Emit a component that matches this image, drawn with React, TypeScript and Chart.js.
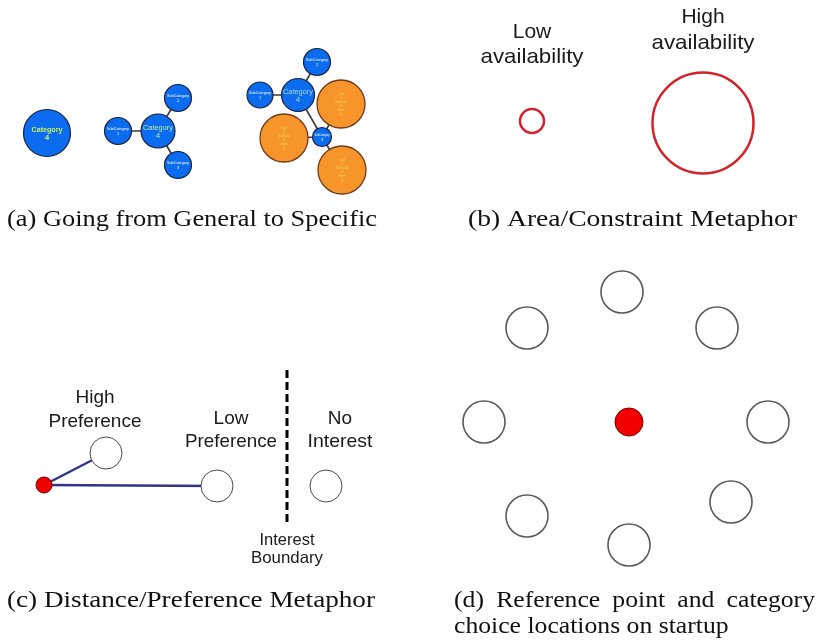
import React, { useEffect, useRef } from 'react';
import { Chart, registerables } from 'chart.js';

Chart.register(...registerables);

const W = 818;
const H = 643;

// ---------- Panel (a): Going from General to Specific ----------
const categoryX = [47, 158, 298];
const categoryY = [133, 131, 95];
const categoryR = [23.5, 17, 16.5];

const subX = [118, 178, 178, 260, 317, 322];
const subY = [131, 98, 165, 95, 62, 137];
const subR = [13.5, 13.5, 13.5, 13, 13.5, 9.5];
const subNum = ['1', '2', '3', '1', '2', '3'];

const itemX = [341, 284, 342];
const itemY = [104, 138, 170];
const itemR = [24, 24, 24];
const itemNum = ['1', '2', '3'];

// links: [kindA, indexA, kindB, indexB]
const treeLinks: [string, number, string, number][] = [
  ['cat', 1, 'sub', 0],
  ['cat', 1, 'sub', 1],
  ['cat', 1, 'sub', 2],
  ['cat', 2, 'sub', 3],
  ['cat', 2, 'sub', 4],
  ['cat', 2, 'sub', 5],
  ['sub', 5, 'item', 0],
  ['sub', 5, 'item', 1],
  ['sub', 5, 'item', 2],
];

// ---------- Panel (b): Area / Constraint ----------
const availX = [532, 703];
const availY = [121, 123];
const availR = [12, 50.5];
const availLabels = [
  ['Low', 'availability'],
  ['High', 'availability'],
];

// ---------- Panel (c): Distance / Preference ----------
const originX = [44];
const originY = [485];
const originR = [8];
const prefX = [106, 217, 326];
const prefY = [453, 486, 486];
const prefR = [16, 16, 16];
const prefLabels = [
  ['High', 'Preference'],
  ['Low', 'Preference'],
  ['No', 'Interest'],
];
const prefLinked = [0, 1];
const boundaryX = [287, 287];
const boundaryY = [370, 524];
const boundaryLabel = ['Interest', 'Boundary'];

// ---------- Panel (d): startup locations ----------
const refX = [629];
const refY = [422];
const refR = [14];
const choiceX = [622, 717, 768, 731, 629, 527, 484, 527];
const choiceY = [292, 328, 422, 502, 545, 516, 422, 328];
const choiceR = [21, 21, 21, 21, 21, 21, 21, 21];

const captions = [
  '(a) Going from General to Specific',
  '(b) Area/Constraint Metaphor',
  '(c) Distance/Preference Metaphor',
  '(d) Reference point and category',
  'choice locations on startup',
];

// ---------- layout / style (not data) ----------
const SANS = '"Liberation Sans", Arial, sans-serif';
const SERIF = '"Liberation Serif", "Times New Roman", serif';

type Label = {
  text: string;
  x: number;
  y: number;
  size: number;
  family: string;
  color: string;
  weight?: string;
  width?: number;
  sx?: number;
  align?: CanvasTextAlign;
  justify?: boolean;
};

function buildLabels(): Label[] {
  const L: Label[] = [];
  // panel a – category labels
  const catColors = ['#c8f25e', '#b4ec9c', '#9fdcd8'];
  const catWeights = ['bold', 'normal', 'normal'];
  const catW = [31, 30, 30];
  categoryX.forEach((x, i) => {
    L.push({ text: 'Category', x, y: categoryY[i] - 3.5, size: 8, family: SANS, color: catColors[i], weight: catWeights[i], width: catW[i] });
    L.push({ text: '4', x, y: categoryY[i] + 4.5, size: 8, family: SANS, color: catColors[i], weight: catWeights[i] });
  });
  subX.forEach((x, i) => {
    const small = subR[i] < 11;
    L.push({ text: 'SubCategory', x, y: subY[i] - 2.5, size: 4, family: SANS, color: '#ffffff', width: small ? 15 : 22 });
    L.push({ text: subNum[i], x, y: subY[i] + 2.5, size: 4, family: SANS, color: '#ffffff' });
  });
  itemX.forEach((x, i) => {
    const lines = ['Cat', '4', 'SubCat', '3', 'Item', itemNum[i]];
    lines.forEach((t, k) => {
      L.push({ text: t, x, y: itemY[i] - 10.5 + k * 4.2, size: 3.6, family: SANS, color: '#f3e04a' });
    });
  });
  // panel b
  const availTop = [[32, 57], [17, 43]];
  availX.forEach((x, i) => {
    L.push({ text: availLabels[i][0], x, y: availTop[i][0], size: 21, family: SANS, color: '#1a1a1a' });
    L.push({ text: availLabels[i][1], x, y: availTop[i][1], size: 21, family: SANS, color: '#1a1a1a', width: 103 });
  });
  // panel c
  const prefLabelX = [95, 231, 340];
  const prefLabelY = [[398, 422], [419, 442], [419, 442]];
  const prefLabelW = [93, 92, 65];
  prefLabels.forEach((pair, i) => {
    L.push({ text: pair[0], x: prefLabelX[i], y: prefLabelY[i][0], size: 19, family: SANS, color: '#1a1a1a' });
    L.push({ text: pair[1], x: prefLabelX[i], y: prefLabelY[i][1], size: 19, family: SANS, color: '#1a1a1a', width: prefLabelW[i] });
  });
  L.push({ text: boundaryLabel[0], x: boundaryX[0], y: 540, size: 16.5, family: SANS, color: '#1a1a1a' });
  L.push({ text: boundaryLabel[1], x: boundaryX[0], y: 558, size: 16.5, family: SANS, color: '#1a1a1a', width: 72 });
  // captions
  const capSize = 24;
  const capSx = 1.07;
  L.push({ text: captions[0], x: 7, y: 220, size: capSize, family: SERIF, color: '#111', width: 370, align: 'left' });
  L.push({ text: captions[1], x: 468, y: 220, size: capSize, family: SERIF, color: '#111', width: 329, align: 'left' });
  L.push({ text: captions[2], x: 7, y: 601, size: capSize, family: SERIF, color: '#111', width: 368, align: 'left' });
  L.push({ text: captions[3], x: 454, y: 601, size: capSize, family: SERIF, color: '#111', width: 361, sx: capSx, align: 'left', justify: true });
  L.push({ text: captions[4], x: 454, y: 627, size: capSize, family: SERIF, color: '#111', sx: capSx, align: 'left' });
  return L;
}

function drawLabel(ctx: CanvasRenderingContext2D, t: Label, px: number, py: number) {
  ctx.save();
  ctx.font = `${t.weight || 'normal'} ${t.size}px ${t.family}`;
  ctx.fillStyle = t.color;
  ctx.textBaseline = 'middle';
  if (t.justify && t.width) {
    const sx = t.sx || 1;
    const words = t.text.split(' ');
    const ws = words.map((w) => ctx.measureText(w).width * sx);
    const total = ws.reduce((a, b) => a + b, 0);
    const gap = (t.width - total) / (words.length - 1);
    let cx = px;
    words.forEach((w, i) => {
      ctx.save();
      ctx.translate(cx, py);
      ctx.scale(sx, 1);
      ctx.textAlign = 'left';
      ctx.fillText(w, 0, 0);
      ctx.restore();
      cx += ws[i] + gap;
    });
  } else {
    const w = ctx.measureText(t.text).width;
    const sx = t.width ? t.width / w : t.sx || 1;
    ctx.translate(px, py);
    ctx.scale(sx, 1);
    ctx.textAlign = t.align || 'center';
    ctx.fillText(t.text, 0, 0);
  }
  ctx.restore();
}

const labelPlugin = {
  id: 'diagramLabels',
  afterDatasetsDraw(chart: any) {
    const ctx = chart.ctx as CanvasRenderingContext2D;
    const xs = chart.scales.x;
    const ys = chart.scales.y;
    buildLabels().forEach((t) => drawLabel(ctx, t, xs.getPixelForValue(t.x), ys.getPixelForValue(t.y)));
  },
};

const whiteBg = {
  id: 'whiteBg',
  beforeDraw(chart: any) {
    const c = chart.ctx;
    c.save();
    c.fillStyle = '#ffffff';
    c.fillRect(0, 0, chart.width, chart.height);
    c.restore();
  },
};

function pts(xs: number[], ys: number[], rs: number[]) {
  return xs.map((x, i) => ({ x, y: ys[i], r: rs[i] }));
}

function bubbles(data: any[], fill: string, stroke: string, bw: number) {
  return {
    type: 'bubble' as const,
    data,
    backgroundColor: fill,
    borderColor: stroke,
    borderWidth: bw,
    hoverRadius: 0,
    hoverBorderWidth: bw,
    clip: false as any,
    order: 0,
  };
}

function segment(a: { x: number; y: number }, b: { x: number; y: number }, color: string, w: number, dash: number[] = []) {
  return {
    type: 'line' as const,
    data: [{ x: a.x, y: a.y }, { x: b.x, y: b.y }],
    borderColor: color,
    borderWidth: w,
    borderDash: dash,
    pointRadius: 0,
    pointHoverRadius: 0,
    fill: false,
    tension: 0,
    clip: false as any,
    order: 1,
  };
}

export default function App() {
  const ref = useRef<HTMLCanvasElement | null>(null);

  useEffect(() => {
    if (!ref.current) return;
    const nodes: Record<string, { x: number; y: number }[]> = {
      cat: categoryX.map((x, i) => ({ x, y: categoryY[i] })),
      sub: subX.map((x, i) => ({ x, y: subY[i] })),
      item: itemX.map((x, i) => ({ x, y: itemY[i] })),
    };
    const origin = { x: originX[0], y: originY[0] };
    const datasets: any[] = [
      // panel a
      bubbles(pts(categoryX, categoryY, categoryR), '#0b6cf0', '#1b2440', 1.2),
      bubbles(pts(subX, subY, subR), '#0b6cf0', '#1b2440', 1.2),
      bubbles(pts(itemX, itemY, itemR), '#f7942a', '#6e3a1c', 1.3),
      // panel b
      bubbles(pts(availX, availY, availR), 'rgba(255,255,255,0)', '#d2232a', 2.5),
      // panel c
      bubbles(pts(prefX, prefY, prefR), '#ffffff', '#4a4a4a', 1),
      bubbles(pts(originX, originY, originR), '#ee0000', '#8a0000', 1),
      // panel d
      bubbles(pts(choiceX, choiceY, choiceR), '#ffffff', '#5a5a5a', 1.6),
      bubbles(pts(refX, refY, refR), '#f20000', '#7a0000', 1),
    ];
    treeLinks.forEach(([ka, ia, kb, ib]) => {
      datasets.push(segment(nodes[ka][ia], nodes[kb][ib], '#3a3a3a', 1.6));
    });
    prefLinked.forEach((i) => {
      datasets.push(segment(origin, { x: prefX[i], y: prefY[i] }, '#33338a', 2.5));
    });
    datasets.push(
      segment({ x: boundaryX[0], y: boundaryY[0] }, { x: boundaryX[1], y: boundaryY[1] }, '#000000', 3, [8, 4])
    );

    const chart = new Chart(ref.current, {
      type: 'bubble',
      data: { datasets },
      options: {
        responsive: false,
        animation: false,
        devicePixelRatio: 1,
        layout: { padding: 0, autoPadding: false } as any,
        events: [],
        scales: {
          x: { type: 'linear', min: 0, max: W, display: false },
          y: { type: 'linear', min: 0, max: H, reverse: true, display: false },
        },
        plugins: {
          legend: { display: false },
          tooltip: { enabled: false },
        },
      },
      plugins: [whiteBg, labelPlugin],
    });
    return () => chart.destroy();
  }, []);

  return (
    <div style={{ position: 'absolute', left: 0, top: 0, width: W, height: H, background: '#fff' }}>
      <canvas ref={ref} width={W} height={H} style={{ display: 'block', width: W, height: H }} />
    </div>
  );
}
